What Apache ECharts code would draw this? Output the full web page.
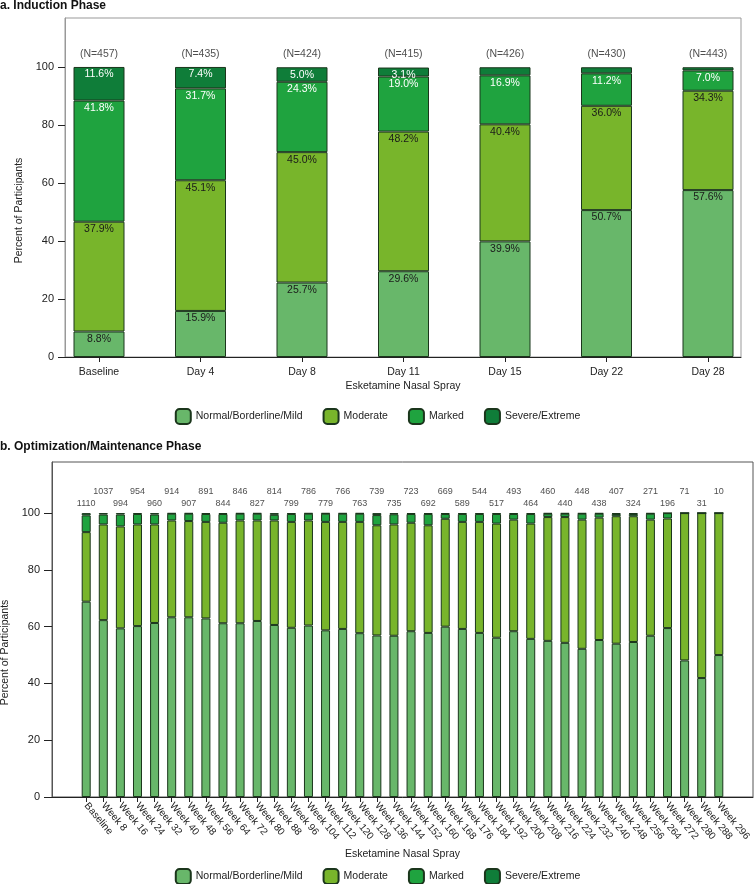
<!DOCTYPE html>
<html>
<head>
<meta charset="utf-8">
<script src="https://cdn.jsdelivr.net/npm/echarts@6/dist/echarts.min.js"></script>
<style>
	html, body { margin: 0; padding: 0; background: #fff; }
	#chart { width: 755px; height: 884px; }
</style>
</head>
<body>
<div id="chart"></div>
<script>
// 严重程度分类
var severityNames = ['Normal/Borderline/Mild', 'Moderate', 'Marked', 'Severe/Extreme'];
var severityColors = ['#68b76a', '#78b52b', '#1fa33f', '#0f7d39'];
var yTicks = [0, 20, 40, 60, 80, 100];

// a. 诱导期
var inductionDays = ['Baseline', 'Day 4', 'Day 8', 'Day 11', 'Day 15', 'Day 22', 'Day 28'];
var inductionN = [457, 435, 424, 415, 426, 430, 443];
var indNormal = [8.8, 15.9, 25.7, 29.6, 39.9, 50.7, 57.6];
var indModerate = [37.9, 45.1, 45.0, 48.2, 40.4, 36.0, 34.3];
var indMarked = [41.8, 31.7, 24.3, 19.0, 16.9, 11.2, 7.0];
var indSevere = [11.6, 7.4, 5.0, 3.1, 2.8, 2.1, 1.1];

// b. 优化/维持期
var maintWeeks = ['Baseline', 'Week 8', 'Week 16', 'Week 24', 'Week 32', 'Week 40', 'Week 48', 'Week 56',
	'Week 64', 'Week 72', 'Week 80', 'Week 88', 'Week 96', 'Week 104', 'Week 112', 'Week 120', 'Week 128',
	'Week 136', 'Week 144', 'Week 152', 'Week 160', 'Week 168', 'Week 176', 'Week 184', 'Week 192',
	'Week 200', 'Week 208', 'Week 216', 'Week 224', 'Week 232', 'Week 240', 'Week 248', 'Week 256',
	'Week 264', 'Week 272', 'Week 280', 'Week 288', 'Week 296'];
var maintN = [1110, 1037, 994, 954, 960, 914, 907, 891, 844, 846, 827, 814, 799, 786, 779, 766, 763,
	739, 735, 723, 692, 669, 589, 544, 517, 493, 464, 460, 440, 448, 438, 407, 324, 271, 196, 71, 31, 10];
var mNormal = [68.8, 62.3, 59.4, 60.2, 61.3, 63.3, 63.3, 62.9, 61.2, 61.2, 62.0, 60.6, 59.6, 60.4, 58.7,
	59.2, 57.7, 56.9, 56.8, 58.4, 57.8, 60.0, 59.2, 57.8, 56.1, 58.4, 55.7, 55.0, 54.3, 52.2, 55.3, 54.0,
	54.6, 56.8, 59.5, 48.1, 41.9, 50.0];
var mModerate = [24.5, 33.7, 35.9, 35.8, 34.7, 34.1, 33.9, 34.0, 35.4, 36.2, 35.4, 36.8, 37.3, 37.0, 38.2,
	37.7, 39.2, 38.8, 39.2, 38.2, 37.9, 38.0, 37.7, 39.1, 40.2, 39.3, 40.6, 43.6, 44.3, 45.5, 43.1, 44.9,
	44.3, 40.9, 38.6, 51.9, 58.1, 50.0];
var mMarked = [5.9, 3.5, 4.2, 3.7, 3.5, 2.4, 2.6, 2.8, 3.1, 2.4, 2.4, 2.0, 2.8, 2.4, 2.9, 2.9, 2.9, 3.6,
	3.6, 3.1, 4.0, 1.7, 2.8, 2.8, 3.4, 2.0, 3.4, 1.2, 1.2, 2.1, 1.4, 0.8, 0.8, 2.1, 1.9, 0, 0, 0];
var mSevere = [0.8, 0.5, 0.5, 0.3, 0.5, 0.2, 0.2, 0.3, 0.3, 0.2, 0.2, 0.6, 0.3, 0.2, 0.2, 0.2, 0.2, 0.7,
	0.4, 0.3, 0.3, 0.3, 0.3, 0.3, 0.3, 0.3, 0.3, 0.2, 0.2, 0.2, 0.2, 0.3, 0.3, 0.2, 0, 0, 0, 0];

var FONT = 'Liberation Sans';

function indexValues(n) {
	var out = [];
	for (var i = 0; i < n; i++) out.push(i);
	return out;
}

// 值放在第一列，这样堆叠作用在 y 上
function toPoints(arr) {
	return arr.map(function (v, i) { return [v, i]; });
}

function pctLabel(color) {
	return {
		show: true,
		position: 'insideTop',
		distance: 2,
		fontFamily: FONT,
		fontSize: 10.5,
		color: color,
		formatter: function (p) {
			var v = p.value[0];
			return v >= 3 ? v.toFixed(1) + '%' : '';
		}
	};
}

function barSeries(name, data, colorIdx, xi, stack, width, labelColor) {
	var s = {
		name: name,
		type: 'bar',
		xAxisIndex: xi,
		yAxisIndex: xi,
		stack: stack,
		barWidth: width,
		encode: { x: 1, y: 0 },
		data: toPoints(data),
		itemStyle: {
			color: severityColors[colorIdx],
			borderColor: '#1b361c',
			borderWidth: 1
		}
	};
	if (labelColor) s.label = pctLabel(labelColor);
	return s;
}

var myChart = echarts.init(document.getElementById('chart'), null, { renderer: 'canvas' });

var option = {
	animation: false,
	textStyle: { fontFamily: FONT, color: '#222' },
	title: [{
		text: 'a. Induction Phase',
		left: 0, top: 0, padding: 0,
		textStyle: { fontFamily: FONT, fontSize: 12, fontWeight: 'bold', color: '#111' }
	}, {
		text: 'b. Optimization/Maintenance Phase',
		left: 0, top: 441, padding: 0,
		textStyle: { fontFamily: FONT, fontSize: 12, fontWeight: 'bold', color: '#111' }
	}],
	legend: [{
		data: severityNames,
		top: 408, left: 'center', padding: 0,
		itemWidth: 15, itemHeight: 15, itemGap: 20,
		textStyle: { fontFamily: FONT, fontSize: 10.5, color: '#222' },
		selectedMode: false
	}, {
		data: severityNames,
		top: 868, left: 'center', padding: 0,
		itemWidth: 15, itemHeight: 15, itemGap: 20,
		textStyle: { fontFamily: FONT, fontSize: 10.5, color: '#222' },
		selectedMode: false
	}],
	grid: [{
		left: 65, top: 18, width: 676, height: 339,
		outerBoundsMode: 'none', containLabel: false,
		show: true, borderColor: '#999', borderWidth: 1
	}, {
		left: 52, top: 462, width: 701, height: 335,
		outerBoundsMode: 'none', containLabel: false,
		show: true, borderColor: '#555', borderWidth: 1
	}],
	xAxis: [{
		type: 'value', gridIndex: 0,
		min: -0.335, max: 6.325,
		name: 'Esketamine Nasal Spray', nameLocation: 'middle', nameGap: 24,
		nameTextStyle: { fontFamily: FONT, fontSize: 10.5, color: '#222' },
		axisLine: { show: true, onZero: false, lineStyle: { color: '#222', width: 1 } },
		axisTick: { show: true, customValues: indexValues(inductionDays.length), length: 5, lineStyle: { color: '#222' } },
		axisLabel: {
			customValues: indexValues(inductionDays.length), margin: 10,
			fontFamily: FONT, fontSize: 10.5, color: '#222',
			formatter: function (v) { return inductionDays[Math.round(v)]; }
		},
		splitLine: { show: false }
	}, {
		type: 'value', gridIndex: 1,
		min: -2, max: 39,
		name: 'Esketamine Nasal Spray', nameLocation: 'middle', nameGap: 52,
		nameTextStyle: { fontFamily: FONT, fontSize: 10.5, color: '#222' },
		axisLine: { show: true, onZero: false, lineStyle: { color: '#222', width: 1 } },
		axisTick: { show: true, customValues: indexValues(maintWeeks.length), length: 5, lineStyle: { color: '#222' } },
		axisLabel: {
			customValues: indexValues(maintWeeks.length), margin: 7, rotate: -50,
			fontFamily: FONT, fontSize: 10, color: '#222',
			formatter: function (v) { return maintWeeks[Math.round(v)]; }
		},
		splitLine: { show: false }
	}],
	yAxis: [{
		type: 'value', gridIndex: 0,
		min: 0, max: 117,
		name: 'Percent of Participants', nameLocation: 'middle', nameGap: 40,
		nameTextStyle: { fontFamily: FONT, fontSize: 10.5, color: '#222', padding: [0, 46, 0, 0] },
		axisLine: { show: true, onZero: false, lineStyle: { color: '#999' } },
		axisTick: { show: true, customValues: yTicks, length: 7, lineStyle: { color: '#222' } },
		axisLabel: { customValues: yTicks, margin: 11, fontFamily: FONT, fontSize: 11, color: '#222' },
		splitLine: { show: false }
	}, {
		type: 'value', gridIndex: 1,
		min: 0, max: 118,
		name: 'Percent of Participants', nameLocation: 'middle', nameGap: 36,
		nameTextStyle: { fontFamily: FONT, fontSize: 10.5, color: '#222', padding: [0, 46, 0, 0] },
		axisLine: { show: true, onZero: false, lineStyle: { color: '#555' } },
		axisTick: { show: true, customValues: yTicks, length: 8, lineStyle: { color: '#222' } },
		axisLabel: { customValues: yTicks, margin: 12, fontFamily: FONT, fontSize: 11, color: '#222' },
		splitLine: { show: false }
	}],
	series: [
		barSeries(severityNames[0], indNormal, 0, 0, 'ind', 51, '#1a1a1a'),
		barSeries(severityNames[1], indModerate, 1, 0, 'ind', 51, '#1a1a1a'),
		barSeries(severityNames[2], indMarked, 2, 0, 'ind', 51, '#ffffff'),
		barSeries(severityNames[3], indSevere, 3, 0, 'ind', 51, '#ffffff'),
		{
			type: 'scatter', xAxisIndex: 0, yAxisIndex: 0, symbolSize: 0, silent: true,
			data: inductionN.map(function (n, i) { return [i, 100]; }),
			label: {
				show: true, position: 'top', distance: 8,
				fontFamily: FONT, fontSize: 10.5, color: '#222',
				formatter: function (p) { return '(N=' + inductionN[p.dataIndex] + ')'; }
			}
		},
		barSeries(severityNames[0], mNormal, 0, 1, 'maint', 9),
		barSeries(severityNames[1], mModerate, 1, 1, 'maint', 9),
		barSeries(severityNames[2], mMarked, 2, 1, 'maint', 9),
		barSeries(severityNames[3], mSevere, 3, 1, 'maint', 9),
		{
			type: 'scatter', xAxisIndex: 1, yAxisIndex: 1, symbolSize: 0, silent: true,
			data: maintN.map(function (n, i) {
				return { value: [i, 100], label: { distance: i % 2 ? 17 : 5 } };
			}),
			label: {
				show: true, position: 'top',
				fontFamily: FONT, fontSize: 9, color: '#222',
				formatter: function (p) { return String(maintN[p.dataIndex]); }
			}
		}
	]
};

myChart.setOption(option);
</script>
</body>
</html>
